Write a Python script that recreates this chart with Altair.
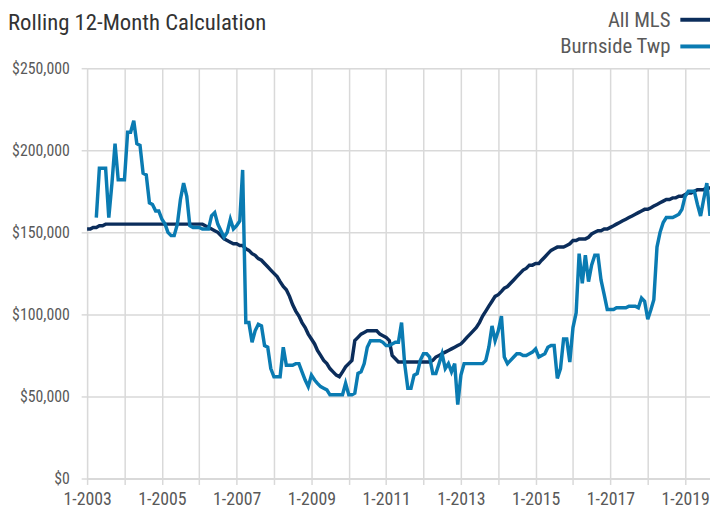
import altair as alt
import pandas as pd

# ---- data (monthly, thousands of dollars) ----
start_month = "2003-01-01"
n_months = 201  # 1-2003 .. 9-2019

all_mls_k = [
    152, 152, 153, 153, 154, 154, 155, 155, 155, 155, 155, 155,   # 2003
    155, 155, 155, 155, 155, 155, 155, 155, 155, 155, 155, 155,   # 2004
    155, 155, 155, 155, 155, 155, 155, 155, 155, 155, 155, 155,   # 2005
    155, 155, 154, 153, 152, 151, 150, 148, 146, 145, 144, 143,   # 2006
    143, 142, 142, 140, 139, 137, 136, 134, 133, 131, 129, 127,   # 2007
    125, 123, 120, 117, 115, 111, 106, 102, 99, 95, 92, 88,       # 2008
    85, 82, 78, 75, 72, 70, 67, 65, 63, 62, 65, 68,               # 2009
    70, 72, 84, 86, 88, 89, 90, 90, 90, 90, 88, 87,               # 2010
    86, 84, 75, 73, 71, 71, 71, 71, 71, 71, 71, 71,               # 2011
    71, 71, 71, 72, 74, 75, 76, 77, 78, 79, 80, 81,               # 2012
    82, 84, 86, 88, 90, 92, 95, 99, 102, 105, 108, 111,           # 2013
    112, 114, 116, 117, 119, 121, 123, 125, 127, 128, 130, 130,   # 2014
    131, 131, 133, 135, 137, 139, 140, 141, 141, 141, 142, 143,   # 2015
    145, 145, 146, 146, 146, 147, 149, 150, 151, 151, 152, 152,   # 2016
    153, 154, 155, 156, 157, 158, 159, 160, 161, 162, 163, 164,   # 2017
    164, 165, 166, 167, 168, 169, 170, 170, 171, 171, 172, 172,   # 2018
    173, 174, 174, 175, 176, 176, 176, 177, 177,                  # 2019
]

burnside_k = [
    None, None, None, 159, 189, 189, 189, 159, 180, 204, 182, 182,  # 2003
    182, 211, 211, 218, 204, 203, 186, 185, 168, 167, 163, 163,     # 2004
    158, 155, 150, 148, 148, 155, 170, 180, 172, 154, 153, 153,     # 2005
    153, 152, 152, 152, 160, 162, 155, 151, 147, 150, 158, 152,     # 2006
    154, 157, 188, 95, 95, 83, 90, 94, 93, 81, 80, 67,              # 2007
    62, 62, 62, 80, 69, 69, 69, 70, 70, 65, 60, 56,                 # 2008
    63, 60, 58, 56, 55, 54, 51, 51, 51, 51, 51, 58,                 # 2009
    51, 51, 52, 64, 65, 70, 80, 84, 84, 84, 84, 83,                 # 2010
    81, 81, 82, 83, 83, 95, 70, 55, 55, 63, 64, 72,                 # 2011
    76, 76, 74, 64, 64, 70, 76, 67, 70, 65, 70, 45,                 # 2012
    63, 70, 70, 70, 70, 70, 70, 70, 72, 80, 93, 84,                 # 2013
    90, 99, 74, 70, 72, 74, 76, 76, 75, 75, 76, 77,                 # 2014
    79, 74, 75, 76, 80, 81, 81, 61, 67, 85, 85, 71,                 # 2015
    92, 101, 137, 119, 136, 120, 130, 136, 136, 121, 112, 103,      # 2016
    103, 103, 104, 104, 104, 104, 105, 105, 105, 104, 110, 108,     # 2017
    97, 103, 109, 141, 150, 156, 159, 159, 159, 160, 161, 164,      # 2018
    172, 175, 175, 175, 167, 160, 170, 180, 160,                    # 2019
]

series_names = ["All MLS", "Burnside Twp"]
series_colors = ["#0B2D5B", "#0A7BB2"]
y_ticks = [0, 50000, 100000, 150000, 200000, 250000]
tick_years = list(range(2003, 2020))
title_text = "Rolling 12-Month Calculation"

dates = pd.date_range(start_month, periods=n_months, freq="MS")
rows = []
for d, v in zip(dates, all_mls_k):
    rows.append({"date": d, "series": series_names[0], "value": v * 1000})
for d, v in zip(dates, burnside_k):
    if v is not None:
        rows.append({"date": d, "series": series_names[1], "value": v * 1000})
df = pd.DataFrame(rows)

FONT = "Liberation Sans Narrow, Roboto Condensed, DejaVu Sans Condensed, Liberation Sans, sans-serif"
GRID = "#d9d9d9"
LABEL = "#595959"

x_enc = alt.X(
    "date:T",
    scale=alt.Scale(
        domain=[alt.DateTime(year=2003, month=1, date=1), alt.DateTime(year=2019, month=9, date=1)],
        nice=False,
    ),
    axis=alt.Axis(
        values=[alt.DateTime(year=y, month=1, date=1) for y in tick_years],
        labelExpr="year(datum.value) % 2 == 1 ? '1-' + year(datum.value) : ''",
        grid=True, gridColor=GRID, gridWidth=1.5,
        domainColor=GRID, domainWidth=2,
        tickColor=GRID, tickSize=6, tickWidth=1.5,
        labelFont=FONT, labelFontSize=18, labelColor=LABEL, labelPadding=6,
        labelOverlap=False, labelFlush=False, title=None,
    ),
)
y_enc = alt.Y(
    "value:Q",
    scale=alt.Scale(domain=[0, 250000], nice=False),
    axis=alt.Axis(
        values=y_ticks, format="$,.0f",
        grid=True, gridColor=GRID, gridWidth=1.5,
        domain=False, tickColor=GRID, tickSize=6, tickWidth=1.5,
        labelFont=FONT, labelFontSize=16, labelColor=LABEL, labelPadding=12,
        title=None,
    ),
)
color_enc = alt.Color(
    "series:N",
    scale=alt.Scale(domain=series_names, range=series_colors),
    legend=None,
)

base = alt.Chart(df)
line_all = base.transform_filter(alt.datum.series == series_names[0]).mark_line(
    strokeWidth=3.5, interpolate="linear"
).encode(x=x_enc, y=y_enc, color=color_enc)
line_bt = base.transform_filter(alt.datum.series == series_names[1]).mark_line(
    strokeWidth=3.5, interpolate="linear"
).encode(x=x_enc, y=y_enc, color=color_enc)

title_mark = alt.Chart(pd.DataFrame({"t": [title_text]})).mark_text(
    font=FONT, fontSize=23, color="#333333", align="left", baseline="top"
).encode(text="t:N", x=alt.value(-80), y=alt.value(-57))

leg1_text = alt.Chart(pd.DataFrame({"t": [series_names[0]]})).mark_text(
    font=FONT, fontSize=21, color=LABEL, align="right", baseline="alphabetic"
).encode(text="t:N", x=alt.value(590), y=alt.value(-42))
leg2_text = alt.Chart(pd.DataFrame({"t": [series_names[1]]})).mark_text(
    font=FONT, fontSize=21, color=LABEL, align="right", baseline="alphabetic"
).encode(text="t:N", x=alt.value(590), y=alt.value(-15))
leg1_rule = alt.Chart(pd.DataFrame({"t": [series_names[0]]})).mark_rule(
    strokeWidth=4, color=series_colors[0]
).encode(x=alt.value(600), x2=alt.value(630), y=alt.value(-49))
leg2_rule = alt.Chart(pd.DataFrame({"t": [series_names[1]]})).mark_rule(
    strokeWidth=4, color=series_colors[1]
).encode(x=alt.value(600), x2=alt.value(630), y=alt.value(-22))

chart = alt.layer(
    line_all, line_bt, title_mark, leg1_text, leg2_text, leg1_rule, leg2_rule
).properties(
    width=630, height=415,
    autosize=alt.AutoSizeParams(type="none"),
    padding={"left": 80, "top": 58, "right": 0, "bottom": 34},
).configure_view(stroke=None).configure(background="white")

chart.save("out.html", embed_options={"renderer": "svg", "actions": False})
